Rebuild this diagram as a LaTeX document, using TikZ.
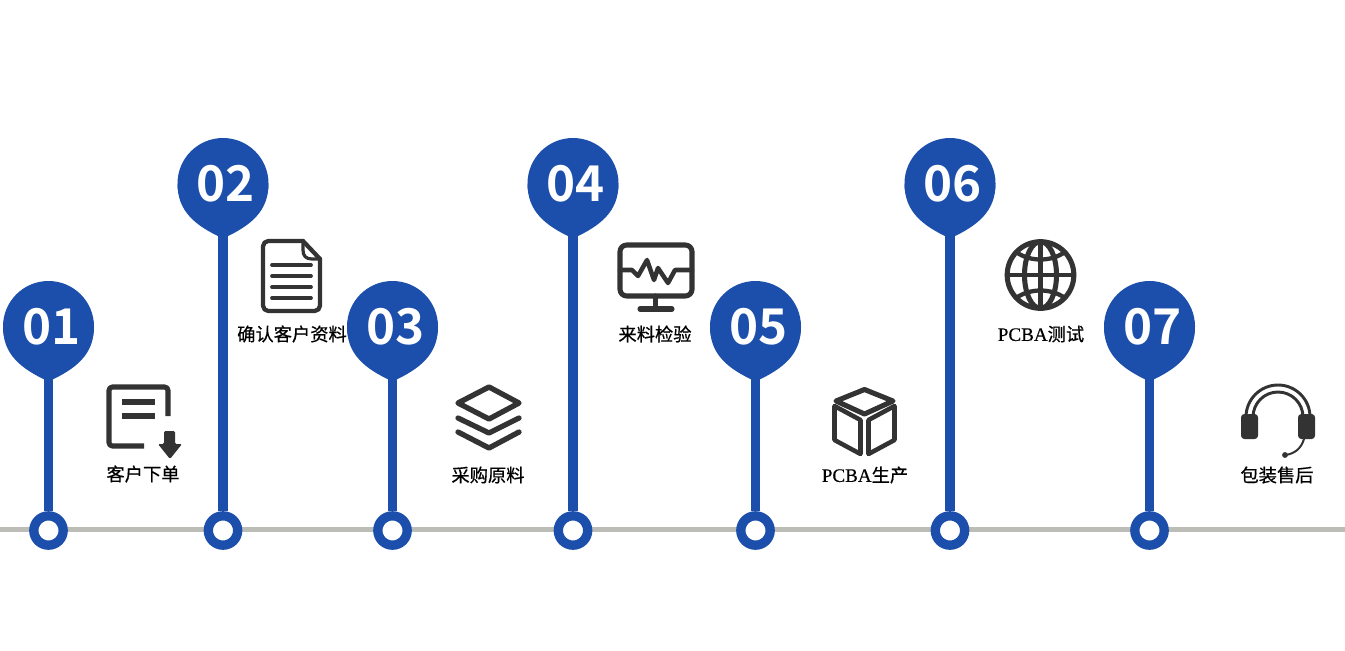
\documentclass[tikz,border=0pt]{standalone}
\usepackage{fontspec}
\newfontfamily\cjk[FakeBold=0.6]{Noto Sans CJK SC}
\newfontfamily\numfont[BoldFont={Noto Sans CJK SC Bold}]{Noto Sans CJK SC}
\newfontfamily\latin[FakeBold=0.3]{Liberation Serif}
\definecolor{pinblue}{HTML}{1C4FAB}
\definecolor{icongrey}{HTML}{333333}
\definecolor{linegrey}{HTML}{BDBDB8}
\tikzset{
  pin/.style={circle,fill=pinblue,text=white,inner sep=0pt,minimum size=68.25pt,font=\numfont\bfseries\fontsize{37}{37}\selectfont},
  ring/.style={circle,draw=pinblue,fill=white,line width=7pt,inner sep=0pt,minimum size=22pt},
  stem/.style={draw=pinblue,line width=6.8pt},
  baseline/.style={draw=linegrey,line width=4pt},
  icon/.style={draw=icongrey,line width=3.8pt,line join=round,line cap=round},
  thin icon/.style={icon,line width=2.8pt},
  label/.style={inner sep=0pt,text=black,font=\cjk\fontsize{13.7}{14}\selectfont}
}
\begin{document}
\begin{tikzpicture}[x=0.75pt,y=-0.75pt]
\useasboundingbox (0,0) rectangle (1345,650);
\coordinate (lineL) at (0,529.5);
\coordinate (lineR) at (1345,529.5);
\draw[baseline] (lineL) -- (lineR);
% pins and rings
\foreach \i/\x/\y in {1/48.5/326.5,2/223/183.5,3/392.5/326.5,4/573/183.5,5/755.5/326.5,6/950/183.5,7/1149.5/326.5}{
  \coordinate (tip\i) at (\x,\y+55);
  \fill[pinblue] (\x+45.5,\y) .. controls +(0,28) and +(28,-13) .. (tip\i) .. controls +(-28,-13) and +(0,28) .. (\x-45.5,\y) -- cycle;
  \node[pin] (pin\i) at (\x,\y) {\hspace*{4pt}\raisebox{-0.6pt}{0\i}};
  \node[ring] (ring\i) at (\x,530.5) {};
  \draw[stem] (pin\i.south) -- (ring\i);
}
% labels
\node[label] (order) at (143,474) {客户下单};
\node[label] (confirm) at (292,334) {确认客户资料};
\node[label] (purchase) at (488,475) {采购原料};
\node[label] (inspect) at (655,334) {来料检验};
\node[label] (produce) at (865,475) {{\latin\fontsize{14.3}{14}\selectfont PCBA}生产};
\node[label] (testing) at (1041,334) {{\latin\fontsize{14.3}{14}\selectfont PCBA}测试};
\node[label] (service) at (1277,475) {包装售后};
% order icon
\draw[icon,line cap=butt,rounded corners=2.5pt] (168,416) -- (168,387) -- (109,387) -- (109,446) -- (144,446);
\draw[icon,line cap=butt] (122,402) -- (155,402) (122,416) -- (155,416);
\fill[icongrey,rounded corners=1pt] (164,431) -- (175,431) -- (175,444) -- (182,444) -- (170,459) -- (158,444) -- (164,444) -- cycle;
% document icon
\draw[thin icon,line width=3.2pt,rounded corners=4pt] (303,241) -- (263,241) -- (263,311) -- (320,311) -- (320,259);
\draw[thin icon,line width=3.2pt] (303,241) -- (320,259);
\draw[thin icon,line width=2.4pt] (303,241) -- (303,250) .. controls (303,256) and (306,259) .. (312,259) -- (320,259);
\foreach \y in {265,276,287,298}{
  \draw[thin icon] (272,\y) -- (311,\y);
}
% layers icon
\draw[icon,line width=4pt] (489,387) -- (519,403) -- (489,419) -- (458,403) -- cycle;
\draw[icon,line width=4pt] (458,418) -- (489,433) -- (519,418);
\draw[icon,line width=4pt] (458,432) -- (489,448) -- (519,432);
% monitor icon
\draw[icon,rounded corners=5pt] (620,245) rectangle (692,296);
\draw[icon] (655.5,296) -- (655.5,309) (640,309) -- (672,309);
\draw[thin icon,line width=3.4pt] (620,270) -- (632,270) -- (638,276) -- (647,260) -- (654,280) -- (658,268) -- (668,283) -- (675,270) -- (692,270);
% box icon
\draw[icon] (864.5,389.5) -- (893,401) -- (864.5,414) -- (836,401) -- cycle;
\draw[icon,line width=3.4pt] (834.5,406) -- (860.5,420) -- (860.5,454) -- (834.5,440) -- cycle;
\draw[icon,line width=3.4pt] (894.5,406) -- (868.5,420) -- (868.5,454) -- (894.5,440) -- cycle;
% globe icon
\draw[icon] (1040.5,275) circle (25pt);
\draw[icon] (1040.5,275) ellipse (12pt and 25pt);
\draw[thin icon,line width=3.2pt] (1040.5,242) -- (1040.5,308) (1007,275) -- (1074,275);
\draw[thin icon,line width=3.2pt] (1016,252) .. controls (1030,262) and (1051,262) .. (1065,252);
\draw[thin icon,line width=3.2pt] (1016,298) .. controls (1030,288) and (1051,288) .. (1065,298);
% headset icon
\draw[thin icon,line width=2.2pt,line cap=butt] (1246,417) arc (180:360:32);
\draw[thin icon,line width=2.2pt,line cap=butt] (1253,417) arc (180:360:25);
\fill[icongrey,rounded corners=2.5pt] (1241,414) rectangle (1258,439);
\fill[icongrey,rounded corners=2.5pt] (1298,414) rectangle (1315,439);
\draw[thin icon,line width=1.5pt] (1304,439) .. controls (1301,449) and (1294,454) .. (1285,455);
\fill[icongrey] (1285,455) circle (2.2pt);
\end{tikzpicture}
\end{document}
